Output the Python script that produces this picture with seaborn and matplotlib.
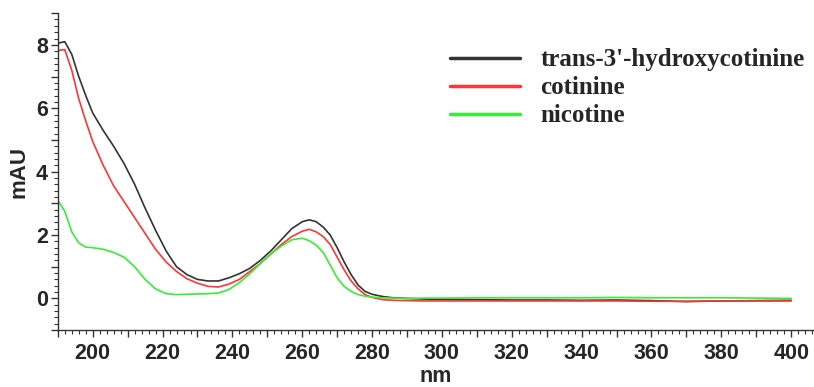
import numpy as np
import pandas as pd
import matplotlib
matplotlib.use("Agg")
import matplotlib.pyplot as plt
from matplotlib.ticker import MultipleLocator, FuncFormatter
from matplotlib.lines import Line2D
import seaborn as sns

wavelength = [190, 192, 194, 196, 198, 200, 203, 206, 209, 212, 215, 218, 221, 224, 227,
              230, 233, 236, 239, 242, 245, 248, 251, 254, 257, 260, 262, 264, 266, 268,
              270, 272, 274, 276, 278, 280, 283, 286, 290, 295, 300, 310, 320, 330, 340,
              350, 360, 370, 380, 390, 400]

hydroxycotinine = [8.05, 8.10, 7.70, 7.00, 6.40, 5.85, 5.30, 4.80, 4.25, 3.60, 2.85, 2.15, 1.50, 1.00, 0.75,
                   0.60, 0.55, 0.55, 0.65, 0.78, 0.95, 1.20, 1.50, 1.85, 2.20, 2.42, 2.48, 2.42, 2.25, 2.00,
                   1.60, 1.15, 0.75, 0.42, 0.22, 0.13, 0.06, 0.02, 0.00, -0.02, -0.03, -0.04, -0.05, -0.05, -0.06,
                   -0.05, -0.07, -0.10, -0.08, -0.07, -0.06]

cotinine = [7.82, 7.85, 7.20, 6.30, 5.60, 4.95, 4.20, 3.55, 3.05, 2.55, 2.05, 1.55, 1.15, 0.85, 0.62,
            0.48, 0.38, 0.36, 0.45, 0.60, 0.85, 1.10, 1.40, 1.70, 1.95, 2.12, 2.18, 2.10, 1.95, 1.70,
            1.30, 0.90, 0.55, 0.30, 0.12, 0.03, -0.04, -0.06, -0.07, -0.08, -0.08, -0.08, -0.08, -0.08, -0.08,
            -0.08, -0.09, -0.09, -0.08, -0.08, -0.08]

nicotine = [3.10, 2.75, 2.10, 1.75, 1.62, 1.60, 1.55, 1.45, 1.30, 1.00, 0.60, 0.30, 0.15, 0.12, 0.13,
            0.14, 0.15, 0.17, 0.28, 0.50, 0.78, 1.10, 1.40, 1.65, 1.85, 1.90, 1.82, 1.68, 1.45, 1.05,
            0.65, 0.38, 0.22, 0.12, 0.07, 0.04, 0.02, 0.01, 0.00, 0.01, 0.01, 0.02, 0.02, 0.02, 0.02,
            0.03, 0.02, 0.02, 0.02, 0.01, 0.00]

series_names = ["trans-3'-hydroxycotinine", "cotinine", "nicotine"]
series_colors = ["#333333", "#ff3535", "#35ee35"]

df = pd.concat([
    pd.DataFrame({"nm": wavelength, "mAU": vals, "compound": name})
    for name, vals in zip(series_names, [hydroxycotinine, cotinine, nicotine])
])

sns.set_style("ticks")
plt.rcParams["font.family"] = ["Liberation Sans", "DejaVu Sans"]

fig = plt.figure(figsize=(8.14, 3.87), dpi=100)
ax = fig.add_axes([0.071, 0.147, 0.928, 0.819])

sns.lineplot(data=df, x="nm", y="mAU", hue="compound", palette=dict(zip(series_names, series_colors)),
             hue_order=series_names, linewidth=1.2, ax=ax, legend=False)

ax.set_xlim(190, 406.3)
ax.set_ylim(-1, 9)
sns.despine(ax=ax)

ax.xaxis.set_major_locator(MultipleLocator(10))
ax.xaxis.set_minor_locator(MultipleLocator(2))
ax.xaxis.set_major_formatter(FuncFormatter(lambda v, p: f"{int(round(v))}" if int(round(v)) % 20 == 0 else ""))
ax.yaxis.set_major_locator(MultipleLocator(1))
ax.yaxis.set_minor_locator(MultipleLocator(0.2))
ax.yaxis.set_major_formatter(FuncFormatter(lambda v, p: f"{int(round(v))}" if int(round(v)) % 2 == 0 else ""))

ax.tick_params(axis="both", which="major", direction="out", length=5, width=1, color="#333333",
               labelsize=15.5)
ax.tick_params(axis="x", which="major", pad=4)
ax.tick_params(axis="y", which="major", pad=2)
ax.tick_params(axis="both", which="minor", direction="out", length=3, width=0.8, color="#333333")
for lab in ax.get_xticklabels() + ax.get_yticklabels():
    lab.set_fontweight("bold")
for s in ["left", "bottom"]:
    ax.spines[s].set_color("#333333")
    ax.spines[s].set_linewidth(1.0)

ax.set_xlabel("nm", fontsize=15.5, fontweight="bold", labelpad=1.5)
ax.set_ylabel("mAU", fontsize=16, fontweight="bold", labelpad=5)

handles = [Line2D([0], [0], color=c, lw=2.5) for c in series_colors]
leg = fig.legend(handles, series_names, loc="upper left", bbox_to_anchor=(0.553, 0.875),
                 frameon=False, handlelength=2.8, handletextpad=0.8, labelspacing=0.2,
                 borderpad=0, borderaxespad=0,
                 prop={"family": "Liberation Serif", "weight": "bold", "size": 18})

fig.savefig("out.png", dpi=100)
